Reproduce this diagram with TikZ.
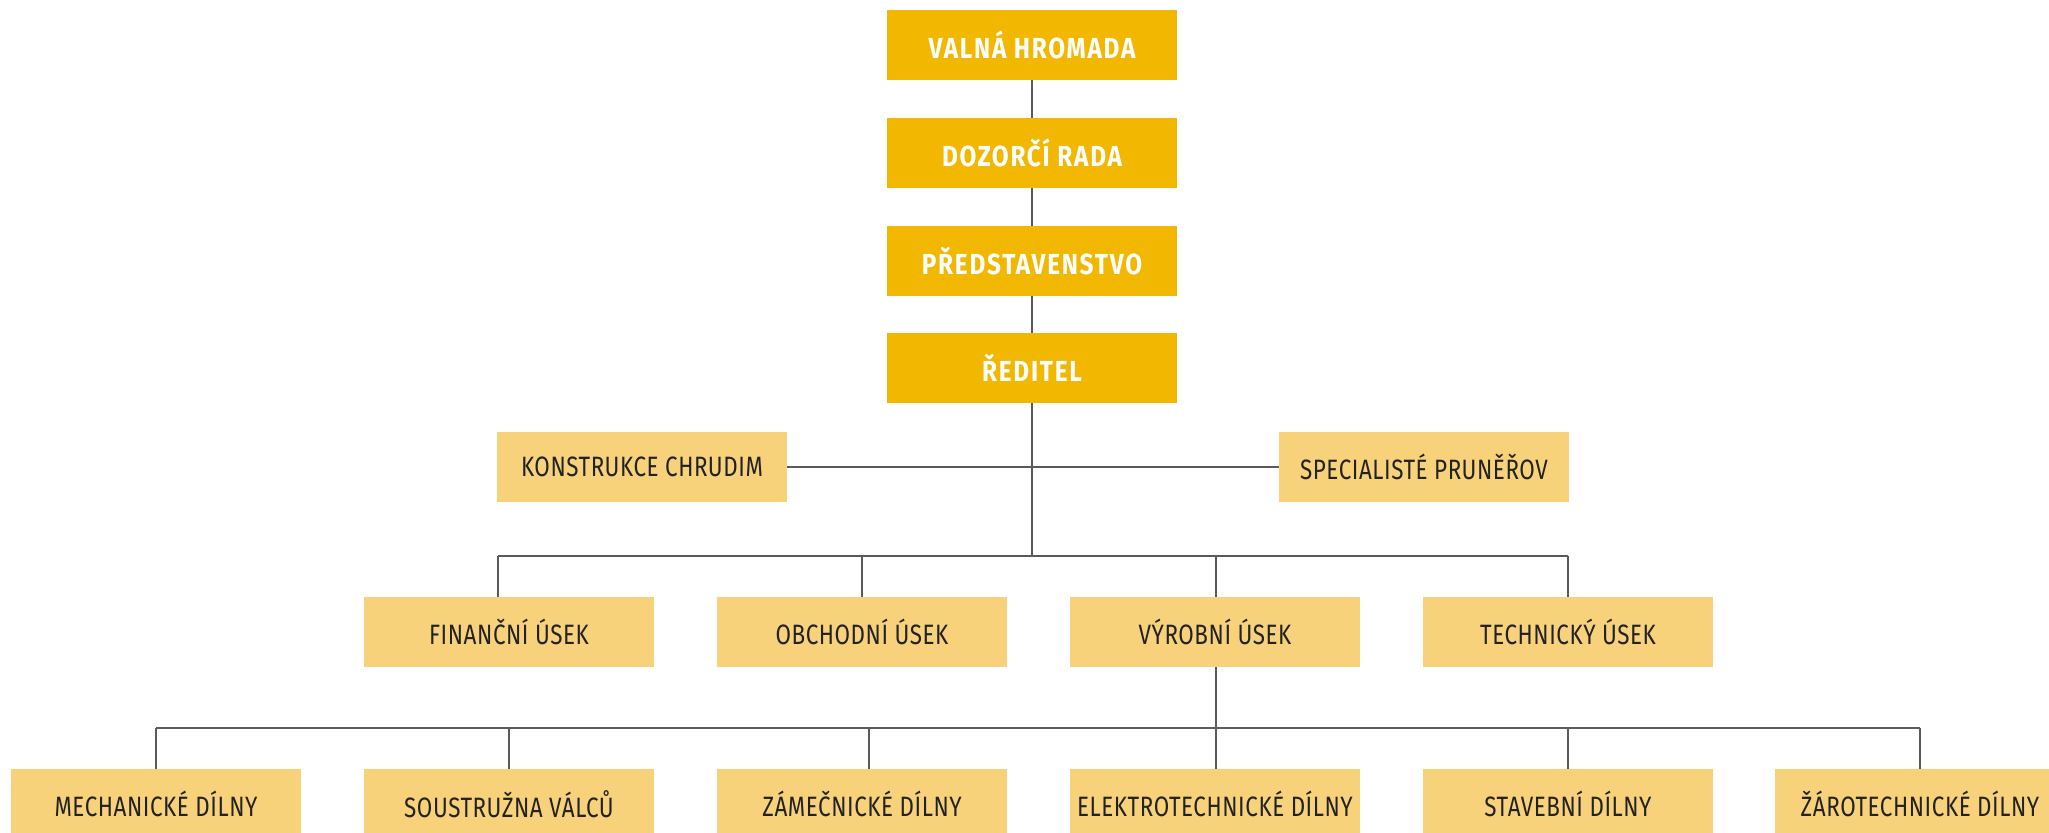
\documentclass[tikz,border=0pt]{standalone}
\usepackage{fontspec}
\newfontfamily\headfont[FakeStretch=0.84,LetterSpace=6]{Fira Sans Bold}
\newfontfamily\unitfont[FakeStretch=0.80,LetterSpace=2]{Fira Sans}
\definecolor{boardgold}{HTML}{F2B700}
\definecolor{unitgold}{HTML}{F8D27A}
\definecolor{linkgray}{HTML}{5A5A5A}
\definecolor{unittext}{HTML}{222222}
\tikzstyle{board}=[fill=boardgold, minimum width=145pt, minimum height=35pt, inner sep=0pt, text=white, font=\headfont\fontsize{14.5}{17}\selectfont]
\tikzstyle{unit}=[fill=unitgold, minimum width=145pt, minimum height=35pt, inner sep=0pt, text=unittext, font=\unitfont\fontsize{14}{16}\selectfont]
\tikzstyle{link}=[draw=linkgray, line width=0.7pt]

\begin{document}
\begin{tikzpicture}[x=0.5pt, y=-0.5pt]
      \useasboundingbox (0,0) rectangle (2049,833);
      \begin{scope}
      \clip (0,0) rectangle (2049,833);
      % top of the company
      \node[board] (vh) at (1032, 45) {VALNÁ HROMADA};
      \node[board] (dr) at (1032, 153) {DOZORČÍ RADA};
      \node[board] (pr) at (1032, 261) {PŘEDSTAVENSTVO};
      \node[board] (red) at (1032, 368) {ŘEDITEL};
      \node[unit] (kon) at (642, 467) {KONSTRUKCE CHRUDIM};
      \node[unit] (spec) at (1424, 467) {SPECIALISTÉ PRUNĚŘOV};
      % departments
      \node[unit] (fin) at (509, 632) {FINANČNÍ ÚSEK};
      \node[unit] (obch) at (862, 632) {OBCHODNÍ ÚSEK};
      \node[unit] (vyr) at (1215, 632) {VÝROBNÍ ÚSEK};
      \node[unit] (tech) at (1568, 632) {TECHNICKÝ ÚSEK};
      % workshops
      \node[unit] (mech) at (156, 804) {MECHANICKÉ DÍLNY};
      \node[unit] (sous) at (509, 804) {SOUSTRUŽNA VÁLCŮ};
      \node[unit] (zam) at (862, 804) {ZÁMEČNICKÉ DÍLNY};
      \node[unit] (elek) at (1215, 804) {ELEKTROTECHNICKÉ DÍLNY};
      \node[unit] (stav) at (1568, 804) {STAVEBNÍ DÍLNY};
      \node[unit] (zar) at (1920, 804) {ŽÁROTECHNICKÉ DÍLNY};
      \coordinate (b1) at (498, 556);
      \coordinate (b2) at (1568, 556);
      \coordinate (c1) at (156, 728);
      \coordinate (c2) at (1920, 728);
      \draw[link] (vh) -- (dr);
      \draw[link] (dr) -- (pr);
      \draw[link] (pr) -- (red);
      \draw[link] (red) -- (red |- b1);
      \draw[link] (kon) -- (spec);
      \draw[link] (b1) -- (b2);
      \draw[link] (b1) -- (b1 |- fin.north);
      \draw[link] (obch.north |- b1) -- (obch.north);
      \draw[link] (1216, 556) -- (1216, 597);
      \draw[link] (b2) -- (tech.north);
      \draw[link] (1216, 667) -- (1216, 769);
      \draw[link] (c1) -- (c2);
      \draw[link] (c1) -- (mech.north);
      \draw[link] (sous.north |- c1) -- (sous.north);
      \draw[link] (869, 728) -- (869, 769);
      \draw[link] (stav.north |- c1) -- (stav.north);
      \draw[link] (c2) -- (zar.north);
      \end{scope}
    \end{tikzpicture}
\end{document}
